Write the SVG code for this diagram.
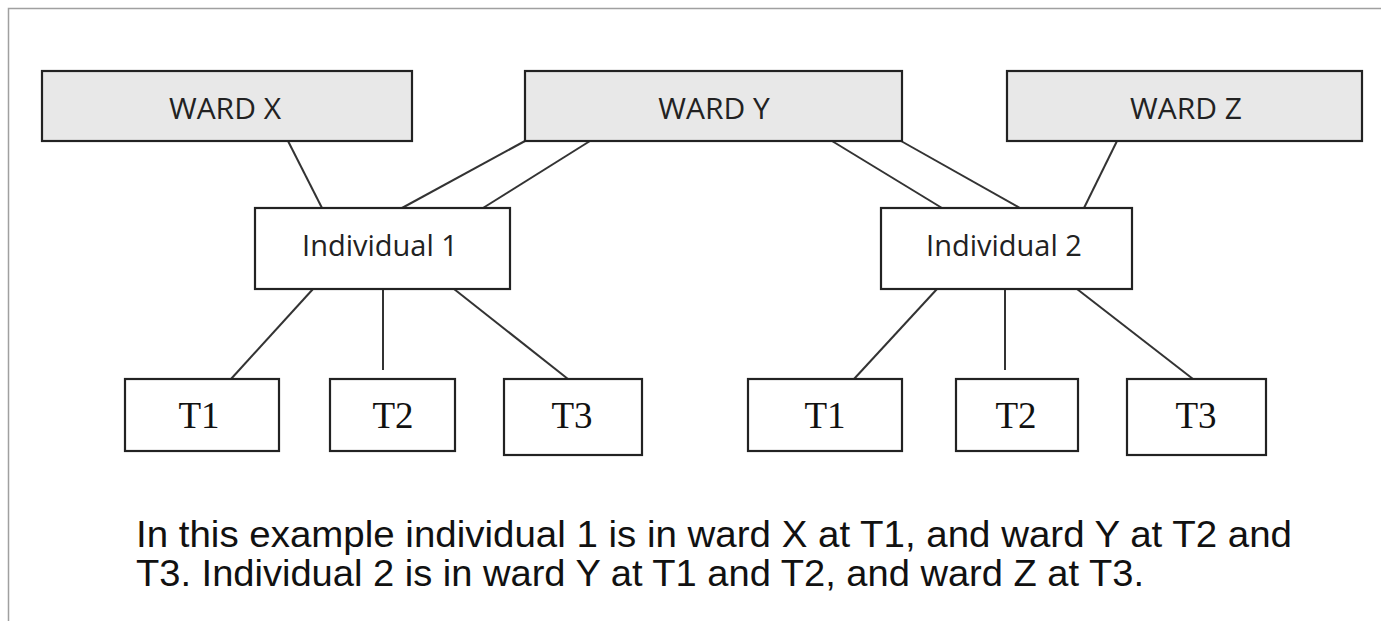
<svg xmlns="http://www.w3.org/2000/svg" width="1381" height="621" viewBox="0 0 1381 621">
<style>
.ward{fill:#e8e8e8;stroke:#222;stroke-width:2.2}
.box{fill:#fff;stroke:#222;stroke-width:2.2}
.lbl{font-family:"Open Sans","Liberation Sans",sans-serif;font-size:29px;fill:#222;text-anchor:middle}
.wl{font-size:30px}
.t{font-family:"Liberation Serif","Times New Roman",serif;font-size:37px;fill:#111;text-anchor:middle}
.cap{font-family:"Liberation Sans",Arial,sans-serif;font-size:36px;fill:#111}
#connectors line{stroke:#333;stroke-width:2}
</style>
<rect x="0" y="0" width="1381" height="621" fill="#fff"/>
<rect x="8.5" y="8.5" width="1400" height="700" fill="none" stroke="#a0a0a0" stroke-width="1.5"/>
<g id="connectors">
<line x1="288" y1="141" x2="322" y2="208"/>
<line x1="525" y1="141" x2="402" y2="208"/>
<line x1="590" y1="141" x2="483" y2="208"/>
<line x1="832" y1="141" x2="942" y2="208"/>
<line x1="901" y1="141" x2="1020" y2="208"/>
<line x1="1117" y1="141" x2="1084" y2="208"/>
<line x1="313" y1="289" x2="231" y2="379"/>
<line x1="383" y1="289" x2="383" y2="370"/>
<line x1="454" y1="289" x2="568" y2="379"/>
<line x1="937" y1="289" x2="854" y2="379"/>
<line x1="1005" y1="289" x2="1005" y2="370"/>
<line x1="1077" y1="289" x2="1193" y2="379"/>
</g>
<g id="wardX"><rect class="ward" x="42" y="71" width="370" height="70"/><text class="lbl wl" x="225" y="119">WARD X</text></g>
<g id="wardY"><rect class="ward" x="525" y="71" width="377" height="70"/><text class="lbl wl" x="714" y="119">WARD Y</text></g>
<g id="wardZ"><rect class="ward" x="1007" y="71" width="355" height="70"/><text class="lbl wl" x="1186" y="119">WARD Z</text></g>
<g id="ind1"><rect class="box" x="255" y="208" width="255" height="81"/><text class="lbl" x="380" y="256">Individual 1</text></g>
<g id="ind2"><rect class="box" x="881" y="208" width="251" height="81"/><text class="lbl" x="1004" y="256">Individual 2</text></g>
<g id="i1t1"><rect class="box" x="125" y="379" width="154" height="72"/><text class="t" x="199" y="428">T1</text></g>
<g id="i1t2"><rect class="box" x="330" y="379" width="125" height="72"/><text class="t" x="393" y="428">T2</text></g>
<g id="i1t3"><rect class="box" x="504" y="379" width="138" height="76"/><text class="t" x="572" y="428">T3</text></g>
<g id="i2t1"><rect class="box" x="748" y="379" width="154" height="72"/><text class="t" x="825" y="428">T1</text></g>
<g id="i2t2"><rect class="box" x="956" y="379" width="122" height="72"/><text class="t" x="1016" y="428">T2</text></g>
<g id="i2t3"><rect class="box" x="1127" y="379" width="139" height="76"/><text class="t" x="1196" y="428">T3</text></g>
<g id="caption">
<text class="cap" x="136" y="547" textLength="1156" lengthAdjust="spacingAndGlyphs">In this example individual 1 is in ward X at T1, and ward Y at T2 and</text>
<text class="cap" x="136" y="586" textLength="1008" lengthAdjust="spacingAndGlyphs">T3. Individual 2 is in ward Y at T1 and T2, and ward Z at T3.</text>
</g>
</svg>
